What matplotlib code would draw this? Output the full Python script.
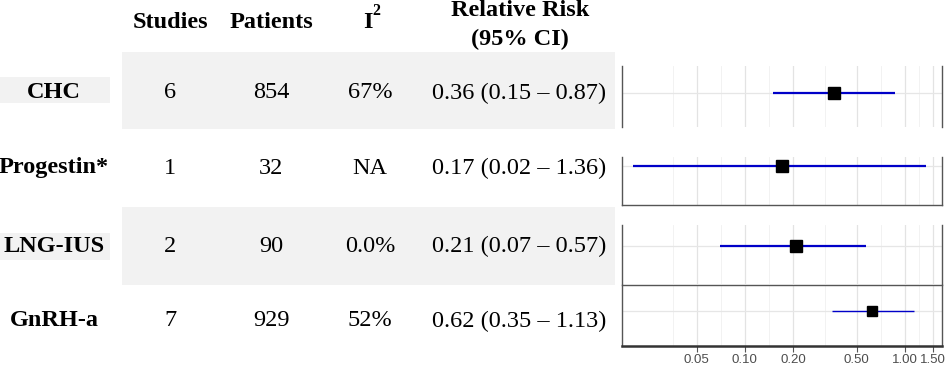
import matplotlib.pyplot as plt
import matplotlib.patches as mpatches

# table data
treatments = ['CHC', 'Progestin*', 'LNG-IUS', 'GnRH-a']
studies = [6, 1, 2, 7]
patients = [854, 32, 90, 929]
i2 = ['67%', 'NA', '0.0%', '52%']
rr = [0.36, 0.17, 0.21, 0.62]
lo = [0.15, 0.02, 0.07, 0.35]
hi = [0.87, 1.36, 0.57, 1.13]
ticks = [0.05, 0.10, 0.20, 0.50, 1.00, 1.50]

W, H = 947, 368
fig = plt.figure(figsize=(W / 100, H / 100), dpi=100)

# background axes in pixel units for the table part
bg = fig.add_axes([0, 0, 1, 1])
bg.set_xlim(0, W)
bg.set_ylim(H, 0)
bg.axis('off')

serif = 'Liberation Serif'
shade = '#f2f2f2'

# shaded rows (CHC and LNG-IUS)
row_y = [93, 168, 246, 321]
shade_rows = {0: (52, 129, 77, 103), 2: (207, 285, 233, 260)}
for i, (t0, t1, l0, l1) in shade_rows.items():
    bg.add_patch(mpatches.Rectangle((122, t0), 615 - 122, t1 - t0, color=shade, lw=0, zorder=0))
    bg.add_patch(mpatches.Rectangle((0, l0), 110, l1 - l0, color=shade, lw=0, zorder=0))

fs = 17.5
hdr = dict(ha='center', va='center', family=serif, fontweight='bold', fontsize=fs)
bg.text(170, 23, 'Studies', **hdr)
bg.text(271, 23, 'Patients', **hdr)
bg.text(368, 23, 'I', **hdr)
bg.text(376, 11, '2', ha='center', va='center', family=serif, fontweight='bold', fontsize=11.5)
bg.text(520, 10, 'Relative Risk', **hdr)
bg.text(520, 39, '(95% CI)', **hdr)

cell = dict(ha='center', va='center', family=serif, fontsize=fs)
for i, name in enumerate(treatments):
    y = row_y[i]
    bg.text(54, y, name, **hdr)
    bg.text(170, y, str(studies[i]), **cell)
    bg.text(271, y, str(patients[i]), **cell)
    bg.text(370, y, i2[i], **cell)
    bg.text(519, y, f'{rr[i]:.2f} ({lo[i]:.2f} \u2013 {hi[i]:.2f})', **cell)

# forest panels: (top px, bottom px, point px, spines shown, marker size, line width)
panels = [
    (66, 127, 93, ['left', 'right'], 8, 1.6),
    (157, 205, 166, ['left', 'bottom', 'right'], 8, 1.6),
    (225, 284, 246, ['left', 'right'], 9, 1.6),
    (285, 346, 311, ['left', 'bottom', 'right', 'top'], 7, 1.0),
]
x0, x1 = 622, 942
xmin, xmax = 0.0171, 1.7
minor = [0.0354, 0.0707, 0.1414, 0.3162, 0.7071, 1.2247]

for i, (top, bot, yc, spines, ms, lw) in enumerate(panels):
    ax = fig.add_axes([x0 / W, 1 - bot / H, (x1 - x0) / W, (bot - top) / H])
    ax.set_xscale('log')
    ax.set_xlim(xmin, xmax)
    # place row center at the right height
    frac = (bot - yc) / (bot - top)
    ax.set_ylim(-frac, 1 - frac)
    for v in ticks:
        ax.axvline(v, color='#e3e3e3', lw=0.9, zorder=0)
    for v in minor:
        ax.axvline(v, color='#f0f0f0', lw=0.6, zorder=0)
    ax.axhline(0, color='#e6e6e6', lw=0.9, zorder=0)
    ax.plot([lo[i], hi[i]], [0, 0], color='#0000c8', lw=lw, zorder=2,
            solid_capstyle='butt')
    ax.plot([rr[i]], [0], marker='s', color='black', ms=ms, zorder=3, ls='none')
    for s in ['left', 'right', 'top', 'bottom']:
        ax.spines[s].set_visible(s in spines)
        ax.spines[s].set_color('#555555')
        ax.spines[s].set_linewidth(1.0)
    ax.set_yticks([])
    ax.minorticks_off()
    if i == 3:
        ax.spines['bottom'].set_linewidth(1.8)
        ax.spines['bottom'].set_color('#333333')
        ax.set_xticks(ticks)
        ax.set_xticklabels([f'{t:.2f}' for t in ticks], family='Liberation Sans',
                           fontsize=9.5, color='#4d4d4d')
        ax.tick_params(axis='x', length=4, color='#555555', pad=2)
    else:
        ax.set_xticks([])

fig.savefig('out.png', dpi=100)
